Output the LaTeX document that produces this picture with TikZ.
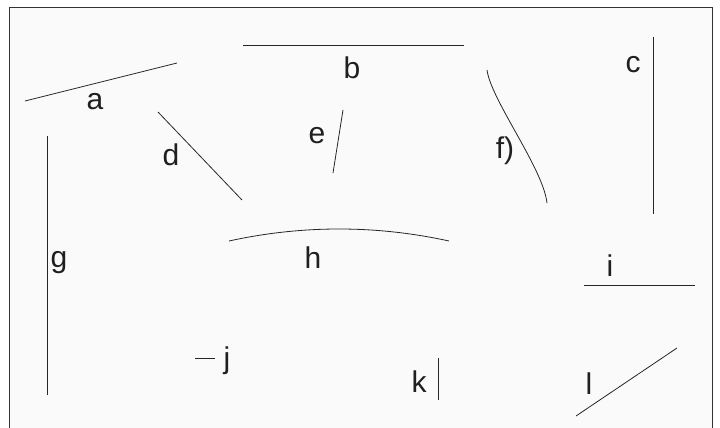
\documentclass[tikz,border=0pt]{standalone}
\usepackage{fontspec}
\setmainfont{Liberation Sans}
\begin{document}
\begin{tikzpicture}[x=1pt,y=-1pt,
  seg/.style={draw=black!85,line width=0.8pt},
  lbl/.style={anchor=base,inner sep=0pt,text=black!88,font=\fontsize{30}{30}\selectfont}]
\useasboundingbox (0,0) rectangle (720,428);
\fill[white] (0,0) rectangle (720,428);
\draw[fill=black!2,draw=black!80,line width=0.9pt] (9.5,7.5) rectangle (712.5,440);
% a
\coordinate (a1) at (25,101); \coordinate (a2) at (177,63);
\draw[seg] (a1) -- (a2);
\node[lbl] (la) at (95,110) {a};
% b
\coordinate (b1) at (243,45.5); \coordinate (b2) at (464,45.5);
\draw[seg] (b1) -- (b2);
\node[lbl] (lb) at (352,78) {b};
% c
\coordinate (c1) at (653,37); \coordinate (c2) at (653,214);
\draw[seg] (c1) -- (c2);
\node[lbl] (lc) at (633,73) {c};
% d
\coordinate (d1) at (158,112); \coordinate (d2) at (242,200);
\draw[seg] (d1) -- (d2);
\node[lbl] (ld) at (171,165) {d};
% e
\coordinate (e1) at (343,110); \coordinate (e2) at (333,173);
\draw[seg] (e1) -- (e2);
\node[lbl] (le) at (317,143) {e};
% f
\coordinate (f1) at (487,70); \coordinate (f2) at (547,203);
\draw[seg] (f1) .. controls (491,100) and (543,168) .. (f2);
\node[lbl] (lf) at (505,158) {f)};
% g
\coordinate (g1) at (47,136); \coordinate (g2) at (47,395);
\draw[seg] (g1) -- (g2);
\node[lbl] (lg) at (59,267) {g};
% h
\coordinate (h1) at (229,241); \coordinate (h2) at (449,241);
\draw[seg] (h1) .. controls (302,225) and (376,225) .. (h2);
\node[lbl] (lh) at (313,268) {h};
% i
\coordinate (i1) at (584,285); \coordinate (i2) at (695,285);
\draw[seg] (i1) -- (i2);
\node[lbl] (li) at (610,276) {i};
% j
\coordinate (j1) at (195,358.5); \coordinate (j2) at (215,358.5);
\draw[seg] (j1) -- (j2);
\node[lbl] (lj) at (227,368) {j};
% k
\coordinate (k1) at (438,358); \coordinate (k2) at (438,400);
\draw[seg] (k1) -- (k2);
\node[lbl] (lk) at (419,392) {k};
% l
\coordinate (l1) at (576,416); \coordinate (l2) at (677,348);
\draw[seg] (l1) -- (l2);
\node[lbl] (ll) at (589,394) {l};
\end{tikzpicture}
\end{document}
